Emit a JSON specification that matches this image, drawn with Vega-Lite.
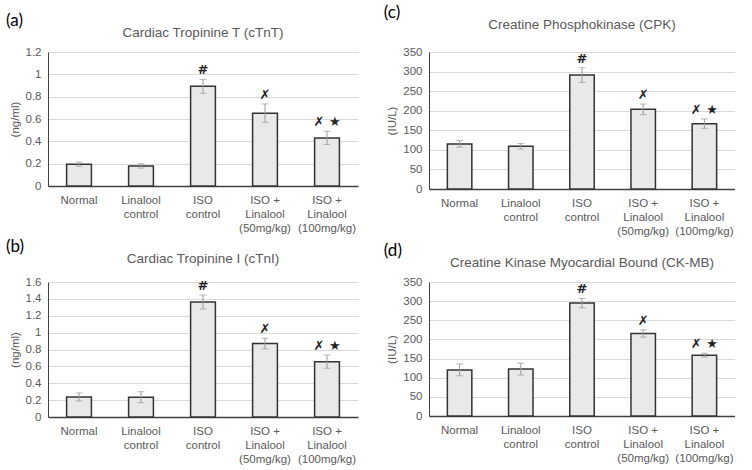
{
  "$schema": "https://vega.github.io/schema/vega-lite/v6.json",
  "background": "white",
  "padding": {"left": 6, "top": 3, "right": 0, "bottom": 2},
  "config": {
    "font": "Liberation Sans",
    "view": {"stroke": null},
    "axis": {"labelColor": "#595959", "titleColor": "#595959", "labelFont": "Liberation Sans", "titleFont": "Liberation Sans", "titleFontWeight": "normal", "labelFontSize": 11.5, "titleFontSize": 11.5, "labelOverlap": false, "gridColor": "#d9d9d9"},
    "title": {"font": "Liberation Sans", "fontWeight": "normal", "color": "#595959", "fontSize": 13.5}
  },
  "datasets": {
    "cTnT": [
      {"group": "Normal", "mean": 0.195, "lo": 0.177, "hi": 0.215, "sig": ""},
      {"group": "Linalool|control", "mean": 0.18, "lo": 0.16, "hi": 0.2, "sig": ""},
      {"group": "ISO|control", "mean": 0.893, "lo": 0.83, "hi": 0.955, "sig": "#"},
      {"group": "ISO +|Linalool|(50mg/kg)", "mean": 0.652, "lo": 0.57, "hi": 0.735, "sig": "✗"},
      {"group": "ISO +|Linalool|(100mg/kg)", "mean": 0.43, "lo": 0.372, "hi": 0.49, "sig": "✗ ★"}
    ],
    "cTnI": [
      {"group": "Normal", "mean": 0.237, "lo": 0.19, "hi": 0.285, "sig": ""},
      {"group": "Linalool|control", "mean": 0.233, "lo": 0.17, "hi": 0.3, "sig": ""},
      {"group": "ISO|control", "mean": 1.362, "lo": 1.28, "hi": 1.445, "sig": "#"},
      {"group": "ISO +|Linalool|(50mg/kg)", "mean": 0.87, "lo": 0.806, "hi": 0.933, "sig": "✗"},
      {"group": "ISO +|Linalool|(100mg/kg)", "mean": 0.656, "lo": 0.577, "hi": 0.735, "sig": "✗ ★"}
    ],
    "CPK": [
      {"group": "Normal", "mean": 115, "lo": 107, "hi": 124, "sig": ""},
      {"group": "Linalool|control", "mean": 109, "lo": 102, "hi": 116, "sig": ""},
      {"group": "ISO|control", "mean": 291, "lo": 272, "hi": 310, "sig": "#"},
      {"group": "ISO +|Linalool|(50mg/kg)", "mean": 204, "lo": 190, "hi": 217, "sig": "✗"},
      {"group": "ISO +|Linalool|(100mg/kg)", "mean": 167, "lo": 155, "hi": 179, "sig": "✗ ★"}
    ],
    "CKMB": [
      {"group": "Normal", "mean": 120, "lo": 105, "hi": 136, "sig": ""},
      {"group": "Linalool|control", "mean": 122.5, "lo": 107, "hi": 138, "sig": ""},
      {"group": "ISO|control", "mean": 295, "lo": 283, "hi": 307, "sig": "#"},
      {"group": "ISO +|Linalool|(50mg/kg)", "mean": 215.5, "lo": 206, "hi": 225, "sig": "✗"},
      {"group": "ISO +|Linalool|(100mg/kg)", "mean": 159, "lo": 154, "hi": 164, "sig": "✗ ★"}
    ]
  },
  "columns": 2,
  "spacing": {"column": 25, "row": 0},
  "concat": [
    {
      "title": {"text": "(a)", "anchor": "start", "color": "black", "fontSize": 17, "font": "Lato", "offset": -4, "dx": -3},
      "vconcat": [{
        "title": {"text": "Cardiac Tropinine T (cTnT)", "offset": 7},
        "width": 310, "height": 134,
        "data": {"name": "cTnT"},
        "encoding": {"x": {"field": "group", "type": "nominal", "sort": null, "scale": {"paddingInner": 0.6, "paddingOuter": 0.3}, "axis": {"title": null, "labelAngle": 0, "labelExpr": "split(datum.label, '|')", "ticks": false, "domainColor": "#404040", "domainWidth": 1.5, "labelPadding": 8, "labelLineHeight": 14}}},
        "layer": [
          {"mark": {"type": "bar", "fill": "#e9e9e9", "stroke": "#333333", "strokeWidth": 1.5}, "encoding": {"y": {"field": "mean", "type": "quantitative", "scale": {"domain": [0, 1.2]}, "axis": {"title": "(ng/ml)", "format": "~g", "values": [0, 0.2, 0.4, 0.6, 0.8, 1, 1.2], "ticks": false, "domain": true, "domainColor": "#404040", "labelPadding": 7, "titlePadding": 5}}}},
          {"mark": {"type": "errorbar", "ticks": {"size": 7, "color": "#9a9a9a"}, "rule": {"color": "#9a9a9a"}}, "encoding": {"y": {"field": "lo", "type": "quantitative", "axis": {"title": "(ng/ml)", "format": "~g", "values": [0, 0.2, 0.4, 0.6, 0.8, 1, 1.2], "ticks": false, "domain": true, "domainColor": "#404040", "labelPadding": 7, "titlePadding": 5}}, "y2": {"field": "hi"}}},
          {"mark": {"type": "text", "dy": -9, "fontSize": 13, "fontWeight": "bold", "color": "#222222", "font": "DejaVu Sans"}, "encoding": {"y": {"field": "hi", "type": "quantitative", "axis": {"title": "(ng/ml)", "format": "~g", "values": [0, 0.2, 0.4, 0.6, 0.8, 1, 1.2], "ticks": false, "domain": true, "domainColor": "#404040", "labelPadding": 7, "titlePadding": 5}}, "text": {"field": "sig"}}}
        ]
      }]
    },
    {
      "title": {"text": "(c)", "anchor": "start", "color": "black", "fontSize": 17, "font": "Lato", "offset": -4, "dx": -3},
      "vconcat": [{
        "title": {"text": "Creatine Phosphokinase (CPK)", "offset": 15},
        "width": 306, "height": 137,
        "data": {"name": "CPK"},
        "encoding": {"x": {"field": "group", "type": "nominal", "sort": null, "scale": {"paddingInner": 0.6, "paddingOuter": 0.3}, "axis": {"title": null, "labelAngle": 0, "labelExpr": "split(datum.label, '|')", "ticks": false, "domainColor": "#404040", "domainWidth": 1.5, "labelPadding": 8, "labelLineHeight": 14}}},
        "layer": [
          {"mark": {"type": "bar", "fill": "#e9e9e9", "stroke": "#333333", "strokeWidth": 1.5}, "encoding": {"y": {"field": "mean", "type": "quantitative", "scale": {"domain": [0, 350]}, "axis": {"title": "(IU/L)", "values": [0, 50, 100, 150, 200, 250, 300, 350], "ticks": false, "domain": true, "domainColor": "#404040", "labelPadding": 7, "titlePadding": 5}}}},
          {"mark": {"type": "errorbar", "ticks": {"size": 7, "color": "#9a9a9a"}, "rule": {"color": "#9a9a9a"}}, "encoding": {"y": {"field": "lo", "type": "quantitative", "axis": {"title": "(IU/L)", "values": [0, 50, 100, 150, 200, 250, 300, 350], "ticks": false, "domain": true, "domainColor": "#404040", "labelPadding": 7, "titlePadding": 5}}, "y2": {"field": "hi"}}},
          {"mark": {"type": "text", "dy": -9, "fontSize": 13, "fontWeight": "bold", "color": "#222222", "font": "DejaVu Sans"}, "encoding": {"y": {"field": "hi", "type": "quantitative", "axis": {"title": "(IU/L)", "values": [0, 50, 100, 150, 200, 250, 300, 350], "ticks": false, "domain": true, "domainColor": "#404040", "labelPadding": 7, "titlePadding": 5}}, "text": {"field": "sig"}}}
        ]
      }]
    },
    {
      "title": {"text": "(b)", "anchor": "start", "color": "black", "fontSize": 17, "font": "Lato", "offset": -4, "dx": -3},
      "vconcat": [{
        "title": {"text": "Cardiac Tropinine I (cTnI)", "offset": 11},
        "width": 310, "height": 135,
        "data": {"name": "cTnI"},
        "encoding": {"x": {"field": "group", "type": "nominal", "sort": null, "scale": {"paddingInner": 0.6, "paddingOuter": 0.3}, "axis": {"title": null, "labelAngle": 0, "labelExpr": "split(datum.label, '|')", "ticks": false, "domainColor": "#404040", "domainWidth": 1.5, "labelPadding": 8, "labelLineHeight": 14}}},
        "layer": [
          {"mark": {"type": "bar", "fill": "#e9e9e9", "stroke": "#333333", "strokeWidth": 1.5}, "encoding": {"y": {"field": "mean", "type": "quantitative", "scale": {"domain": [0, 1.6]}, "axis": {"title": "(ng/ml)", "format": "~g", "values": [0, 0.2, 0.4, 0.6, 0.8, 1, 1.2, 1.4, 1.6], "ticks": false, "domain": true, "domainColor": "#404040", "labelPadding": 7, "titlePadding": 5}}}},
          {"mark": {"type": "errorbar", "ticks": {"size": 7, "color": "#9a9a9a"}, "rule": {"color": "#9a9a9a"}}, "encoding": {"y": {"field": "lo", "type": "quantitative", "axis": {"title": "(ng/ml)", "format": "~g", "values": [0, 0.2, 0.4, 0.6, 0.8, 1, 1.2, 1.4, 1.6], "ticks": false, "domain": true, "domainColor": "#404040", "labelPadding": 7, "titlePadding": 5}}, "y2": {"field": "hi"}}},
          {"mark": {"type": "text", "dy": -9, "fontSize": 13, "fontWeight": "bold", "color": "#222222", "font": "DejaVu Sans"}, "encoding": {"y": {"field": "hi", "type": "quantitative", "axis": {"title": "(ng/ml)", "format": "~g", "values": [0, 0.2, 0.4, 0.6, 0.8, 1, 1.2, 1.4, 1.6], "ticks": false, "domain": true, "domainColor": "#404040", "labelPadding": 7, "titlePadding": 5}}, "text": {"field": "sig"}}}
        ]
      }]
    },
    {
      "title": {"text": "(d)", "anchor": "start", "color": "black", "fontSize": 17, "font": "Lato", "offset": -4, "dx": -3},
      "vconcat": [{
        "title": {"text": "Creatine Kinase Myocardial Bound (CK-MB)", "offset": 7},
        "width": 306, "height": 134,
        "data": {"name": "CKMB"},
        "encoding": {"x": {"field": "group", "type": "nominal", "sort": null, "scale": {"paddingInner": 0.6, "paddingOuter": 0.3}, "axis": {"title": null, "labelAngle": 0, "labelExpr": "split(datum.label, '|')", "ticks": false, "domainColor": "#404040", "domainWidth": 1.5, "labelPadding": 8, "labelLineHeight": 14}}},
        "layer": [
          {"mark": {"type": "bar", "fill": "#e9e9e9", "stroke": "#333333", "strokeWidth": 1.5}, "encoding": {"y": {"field": "mean", "type": "quantitative", "scale": {"domain": [0, 350]}, "axis": {"title": "(IU/L)", "values": [0, 50, 100, 150, 200, 250, 300, 350], "ticks": false, "domain": true, "domainColor": "#404040", "labelPadding": 7, "titlePadding": 5}}}},
          {"mark": {"type": "errorbar", "ticks": {"size": 7, "color": "#9a9a9a"}, "rule": {"color": "#9a9a9a"}}, "encoding": {"y": {"field": "lo", "type": "quantitative", "axis": {"title": "(IU/L)", "values": [0, 50, 100, 150, 200, 250, 300, 350], "ticks": false, "domain": true, "domainColor": "#404040", "labelPadding": 7, "titlePadding": 5}}, "y2": {"field": "hi"}}},
          {"mark": {"type": "text", "dy": -9, "fontSize": 13, "fontWeight": "bold", "color": "#222222", "font": "DejaVu Sans"}, "encoding": {"y": {"field": "hi", "type": "quantitative", "axis": {"title": "(IU/L)", "values": [0, 50, 100, 150, 200, 250, 300, 350], "ticks": false, "domain": true, "domainColor": "#404040", "labelPadding": 7, "titlePadding": 5}}, "text": {"field": "sig"}}}
        ]
      }]
    }
  ]
}
